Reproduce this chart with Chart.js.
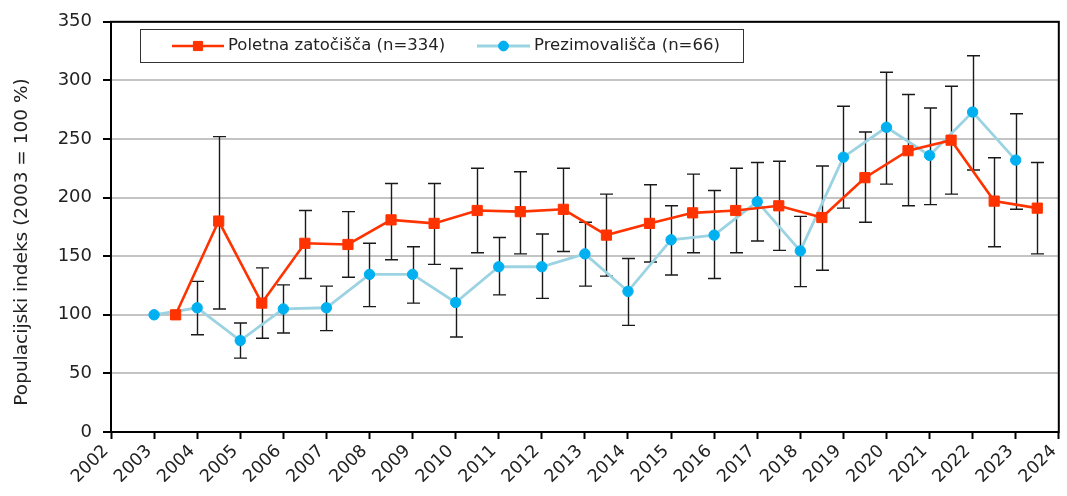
<!DOCTYPE html>
<html>
<head>
<meta charset="utf-8">
<script src="https://cdn.jsdelivr.net/npm/chart.js@4.4.1/dist/chart.umd.min.js"></script>
<style>
  html, body { margin: 0; padding: 0; background: #fff; }
  canvas { display: block; }
</style>
</head>
<body>
<canvas id="chart" width="1067" height="496"></canvas>
<script>
// Seasons (years) of the two monitoring programmes
const summerYears = [2003, 2004, 2005, 2006, 2007, 2008, 2009, 2010, 2011, 2012, 2013,
                     2014, 2015, 2016, 2017, 2018, 2019, 2020, 2021, 2022, 2023];
const winterYears = [2003, 2004, 2005, 2006, 2007, 2008, 2009, 2010, 2011, 2012, 2013,
                     2014, 2015, 2016, 2017, 2018, 2019, 2020, 2021, 2022, 2023];

// Summer roosts: population index and its confidence interval
const summerIndex = [100, 180, 110, 161, 160, 181, 178, 189, 188, 190, 168,
                     178, 187, 189, 193, 183, 217, 240, 249, 197, 191];
const summerLow   = [null, 105, 80, 131, 132, 147, 143, 153, 152, 154, 133,
                     145, 153, 153, 155, 138, 179, 193, 203, 158, 152];
const summerHigh  = [null, 252, 140, 189, 188, 212, 212, 225, 222, 225, 203,
                     211, 220, 225, 231, 227, 256, 288, 295, 234, 230];

// Hibernacula: population index and its confidence interval
const winterIndex = [100, 106, 78, 105, 106, 134.5, 134.5, 110.5, 141, 141, 152,
                     120, 164, 168, 196.5, 154.5, 234.5, 260, 236, 273, 232];
const winterLow   = [null, 83, 63, 84.5, 86.5, 107, 110, 81, 117, 114, 124.5,
                     91, 134, 131, 163, 124, 191, 211.5, 194, 223.5, 190];
const winterHigh  = [null, 128.5, 93, 125.5, 124.5, 161, 158, 139.5, 166, 169, 179,
                     148, 193, 206, 230, 184, 278, 307, 276.5, 321, 271.5];

const seriesLabels = ['Poletna zatočišča (n=334)', 'Prezimovališča (n=66)'];
const yAxisTitle = 'Populacijski indeks (2003 = 100 %)';
const xRange = [2002, 2024];
const yRange = [0, 350];
const yStep = 50;

const FONT = '"DejaVu Sans", Verdana, sans-serif';
const TEXT = '#222';
const RED = '#FF3300';
const BLUE_LINE = '#9CD3E2';
const BLUE_DOT = '#00B0F0';

// Summer counts are plotted in the middle of the season
const summerPoints = summerYears.map((yr, i) => ({ x: yr + 0.5, y: summerIndex[i] }));
const winterPoints = winterYears.map((yr, i) => ({ x: yr, y: winterIndex[i] }));

// Vertical error bars with caps, drawn under the series lines
const errorBars = {
  id: 'errorBars',
  beforeDatasetsDraw(chart) {
    const { ctx, scales: { y } } = chart;
    ctx.save();
    ctx.strokeStyle = '#1a1a1a';
    ctx.lineWidth = 1.4;
    chart.data.datasets.forEach((ds, di) => {
      const meta = chart.getDatasetMeta(di);
      meta.data.forEach((pt, i) => {
        const lo = ds.errLow[i], hi = ds.errHigh[i];
        if (lo == null || hi == null) return;
        const x = Math.round(pt.x) + 0.5;
        const yl = y.getPixelForValue(lo), yh = y.getPixelForValue(hi);
        ctx.beginPath();
        ctx.moveTo(x, yl); ctx.lineTo(x, yh);
        ctx.moveTo(x - 6.5, yl); ctx.lineTo(x + 6.5, yl);
        ctx.moveTo(x - 6.5, yh); ctx.lineTo(x + 6.5, yh);
        ctx.stroke();
      });
    });
    ctx.restore();
  }
};

// Black frame around the plot area
const frame = {
  id: 'frame',
  afterDatasetsDraw(chart) {
    const { ctx, chartArea: a } = chart;
    ctx.save();
    ctx.strokeStyle = '#000';
    ctx.lineWidth = 2;
    ctx.strokeRect(a.left, a.top, a.right - a.left, a.bottom - a.top);
    ctx.restore();
  }
};

// Boxed legend inside the plot, with line + marker samples
const boxLegend = {
  id: 'boxLegend',
  afterDraw(chart) {
    const { ctx } = chart;
    const ds = chart.data.datasets;
    ctx.save();
    ctx.fillStyle = '#fff';
    ctx.fillRect(140, 29, 603, 33);
    ctx.strokeStyle = '#333';
    ctx.lineWidth = 1;
    ctx.strokeRect(140.5, 29.5, 603, 33);
    const items = [
      { ds: ds[0], x0: 172, x1: 224, tx: 228 },
      { ds: ds[1], x0: 477, x1: 530, tx: 534 }
    ];
    const cy = 46;
    items.forEach(it => {
      ctx.strokeStyle = it.ds.borderColor;
      ctx.lineWidth = it.ds.borderWidth;
      ctx.beginPath();
      ctx.moveTo(it.x0, cy); ctx.lineTo(it.x1, cy);
      ctx.stroke();
      const cx = (it.x0 + it.x1) / 2;
      ctx.fillStyle = it.ds.pointBackgroundColor;
      ctx.strokeStyle = it.ds.pointBorderColor;
      ctx.lineWidth = 1;
      ctx.beginPath();
      if (it.ds.pointStyle === 'rect') {
        const s = it.ds.pointRadius * Math.SQRT1_2 - 0.5;
        ctx.rect(cx - s, cy - s, 2 * s, 2 * s);
      } else {
        ctx.arc(cx, cy, it.ds.pointRadius - 0.3, 0, Math.PI * 2);
      }
      ctx.fill();
      ctx.stroke();
      ctx.fillStyle = TEXT;
      ctx.font = '16.5px ' + FONT;
      ctx.textAlign = 'left';
      ctx.textBaseline = 'middle';
      ctx.fillText(it.ds.label, it.tx, cy);
    });
    ctx.restore();
  }
};

// Rotated y-axis title
const yTitle = {
  id: 'yTitle',
  afterDraw(chart) {
    const { ctx } = chart;
    ctx.save();
    ctx.translate(22, 242);
    ctx.rotate(-Math.PI / 2);
    ctx.font = '18.5px ' + FONT;
    ctx.fillStyle = TEXT;
    ctx.textAlign = 'center';
    ctx.textBaseline = 'middle';
    ctx.fillText(yAxisTitle, 0, 0);
    ctx.restore();
  }
};

new Chart(document.getElementById('chart'), {
  type: 'line',
  data: {
    datasets: [
      {
        label: seriesLabels[0],
        data: summerPoints,
        errLow: summerLow,
        errHigh: summerHigh,
        borderColor: RED,
        borderWidth: 2.6,
        pointStyle: 'rect',
        pointRadius: 7.2,
        pointBackgroundColor: RED,
        pointBorderColor: RED,
        pointBorderWidth: 1,
        tension: 0
      },
      {
        label: seriesLabels[1],
        data: winterPoints,
        errLow: winterLow,
        errHigh: winterHigh,
        borderColor: BLUE_LINE,
        borderWidth: 2.8,
        pointStyle: 'circle',
        pointRadius: 5.2,
        pointBackgroundColor: BLUE_DOT,
        pointBorderColor: BLUE_DOT,
        pointBorderWidth: 1,
        tension: 0
      }
    ]
  },
  options: {
    responsive: false,
    devicePixelRatio: 1,
    animation: false,
    layout: { padding: { left: 0, top: 19, right: 3, bottom: 0 } },
    plugins: {
      legend: { display: false },
      tooltip: { enabled: false }
    },
    scales: {
      x: {
        type: 'linear',
        min: xRange[0],
        max: xRange[1],
        afterFit: s => { s.height = 64; s.paddingLeft = 0; s.paddingRight = 0; },
        ticks: {
          stepSize: 1,
          autoSkip: false,
          minRotation: 45,
          maxRotation: 45,
          padding: 2,
          labelOffset: -5,
          color: TEXT,
          font: { family: FONT, size: 17.5 },
          callback: v => String(v)
        },
        grid: {
          drawOnChartArea: false,
          drawTicks: true,
          tickLength: 7,
          tickColor: '#000',
          tickWidth: 2
        },
        border: { display: true, color: '#000', width: 2 }
      },
      y: {
        min: yRange[0],
        max: yRange[1],
        afterFit: s => { s.width = 111; },
        ticks: {
          stepSize: yStep,
          padding: 11,
          color: TEXT,
          font: { family: FONT, size: 18 }
        },
        grid: {
          color: '#c4c4c4',
          lineWidth: 2,
          tickColor: '#000',
          tickLength: 8,
          tickWidth: 2
        },
        border: { display: true, color: '#000', width: 2 }
      }
    }
  },
  plugins: [errorBars, frame, boxLegend, yTitle]
});
</script>
</body>
</html>
